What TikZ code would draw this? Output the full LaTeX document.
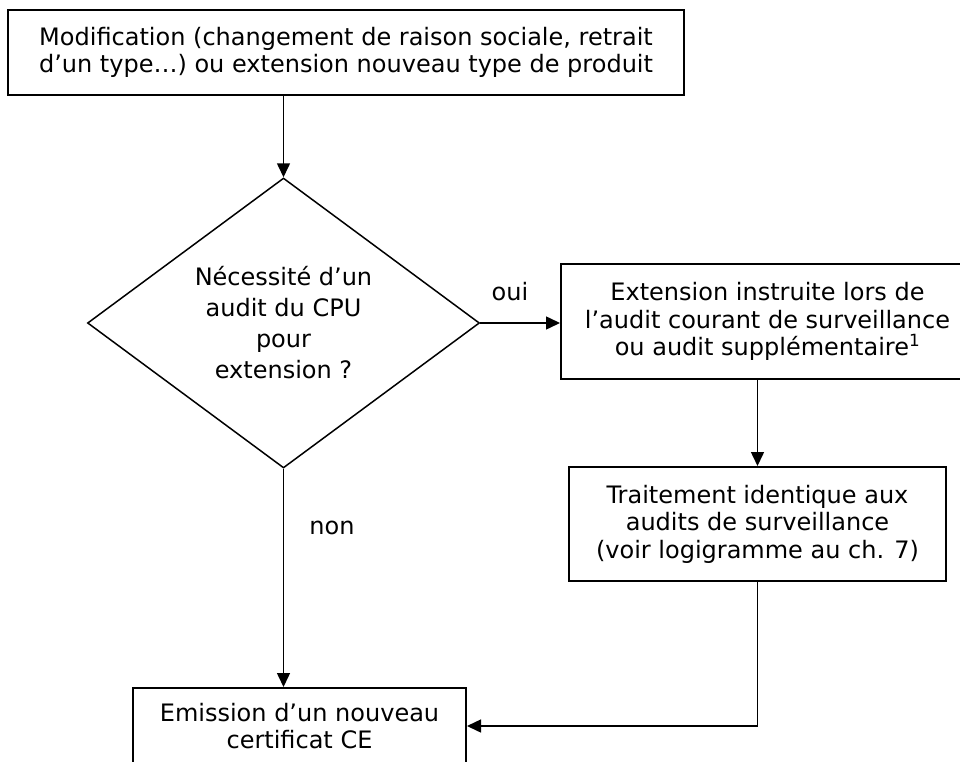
\documentclass[tikz,border=0pt]{standalone}
\usepackage{fontspec}
\setmainfont{DejaVu Sans}
\usetikzlibrary{shapes.geometric,arrows.meta}

\begin{document}
\begin{tikzpicture}[x=1pt, y=-1pt,
    box/.style={draw, line width=2pt, align=center, inner sep=0pt,
        font=\fontsize{24}{27.5}\selectfont},
    fleche/.style={-{Triangle[length=14pt, width=13pt]}, line width=1.5pt},
    etiq/.style={font=\fontsize{24}{27.5}\selectfont}]
    \useasboundingbox (0, 0) rectangle (960, 762);

    \node [box, minimum width=676pt, minimum height=85pt] (modif) at (346, 52.5)
        {Modification (changement de raison sociale, retrait\\d’un type…) ou extension nouveau type de produit};
    \node [box, diamond, line width=1.5pt, minimum width=392pt, minimum height=277pt,
        font=\fontsize{24}{31}\selectfont] (besoin) at (283.5, 323)
        {Nécessité d’un\\audit du CPU\\pour\\extension ?};
    \node [box, minimum width=413pt, minimum height=115pt] (instruit) at (767.5, 321.5)
        {Extension instruite lors de\\l’audit courant de surveillance\\ou audit supplémentaire\textsuperscript{1}};
    \node [box, minimum width=377pt, minimum height=114pt] (traite) at (757.5, 524)
        {Traitement identique aux\\audits de surveillance\\(voir logigramme au ch. 7)};
    \node [box, minimum width=333pt, minimum height=76pt] (emission) at (299.5, 726)
        {Emission d’un nouveau\\certificat CE};

    \node [etiq] (oui) at (510, 292) {oui};
    \node [etiq] (non) at (332, 528) {non};

    \draw [fleche] (besoin.north |- modif.south) -- (besoin.north);
    \draw [fleche] (besoin.east) -- (besoin.east -| instruit.west);
    \draw [fleche] (traite.north |- instruit.south) -- (traite.north);
    \draw [fleche] (besoin.south) -- (besoin.south |- emission.north);
    \draw [fleche] (traite.south) |- (emission.east);
  \end{tikzpicture}
\end{document}
